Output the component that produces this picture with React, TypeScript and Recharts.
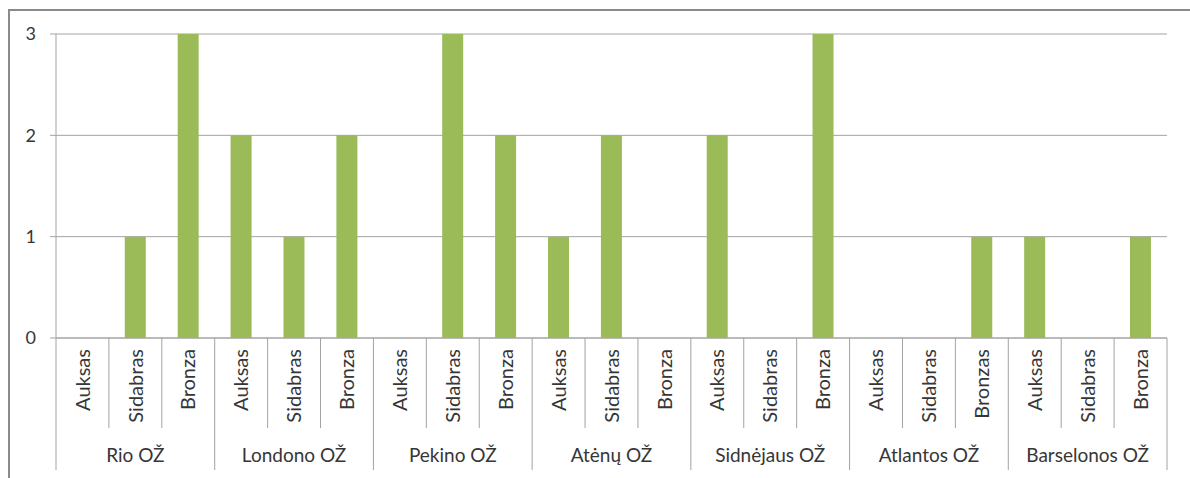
import React from "react";
import { Bar, BarChart, CartesianGrid, XAxis, YAxis } from "recharts";

// Medalių skaičius pagal olimpines žaidynes
const games = ["Rio OŽ", "Londono OŽ", "Pekino OŽ", "Atėnų OŽ", "Sidnėjaus OŽ", "Atlantos OŽ", "Barselonos OŽ"];
const medalLabels = [
  ["Auksas", "Sidabras", "Bronza"],
  ["Auksas", "Sidabras", "Bronza"],
  ["Auksas", "Sidabras", "Bronza"],
  ["Auksas", "Sidabras", "Bronza"],
  ["Auksas", "Sidabras", "Bronza"],
  ["Auksas", "Sidabras", "Bronzas"],
  ["Auksas", "Sidabras", "Bronza"],
];
const medalCounts = [
  [0, 1, 3],
  [2, 1, 2],
  [0, 3, 2],
  [1, 2, 0],
  [2, 0, 3],
  [0, 0, 1],
  [1, 0, 1],
];
const yTicks = [0, 1, 2, 3];

const data = games.flatMap((game, g) =>
  medalLabels[g].map((medal, m) => ({
    key: `${g}-${m}`,
    game,
    medal,
    value: medalCounts[g][m],
  }))
);

const CHART_W = 1190;
const CHART_H = 478;
const MARGIN = { top: 34, right: 23, left: 0, bottom: 0 };
const Y_AXIS_W = 56;
const X_AXIS_H = 140;
const PLOT_W = CHART_W - MARGIN.left - MARGIN.right - Y_AXIS_W;
const BAND = PLOT_W / data.length;
const AXIS_Y = CHART_H - MARGIN.bottom - X_AXIS_H;

const GRID = "#a3a3a3";
const TEXT = "#363636";
const FONT = "Lato, 'Open Sans', sans-serif";

function MedalTick(props: any) {
  const { x, payload } = props;
  const i = payload.index;
  const row = data[i];
  const groupStart = i % 3 === 0;
  const left = x - BAND / 2;
  const right = x + BAND / 2;
  return (
    <g>
      <line x1={left} x2={left} y1={AXIS_Y} y2={AXIS_Y + (groupStart ? 132 : 90)} stroke={GRID} />
      {i === data.length - 1 && (
        <line x1={right} x2={right} y1={AXIS_Y} y2={AXIS_Y + 132} stroke={GRID} />
      )}
      <text
        x={x}
        y={AXIS_Y + 11}
        transform={`rotate(-90 ${x} ${AXIS_Y + 11})`}
        textAnchor="end"
        dy="0.36em"
        fontSize={20}
        fontFamily={FONT}
        fill={TEXT}
      >
        {row.medal}
      </text>
      {i % 3 === 1 && (
        <text x={x} y={AXIS_Y + 124} textAnchor="middle" fontSize={19} fontFamily={FONT} fill={TEXT}>
          {row.game}
        </text>
      )}
    </g>
  );
}

export default function App() {
  return (
    <div style={{ position: "absolute", left: 0, top: 0, width: CHART_W, height: CHART_H, overflow: "hidden", background: "#fff" }}>
      <div
        style={{
          position: "absolute",
          left: 8,
          top: 9,
          width: CHART_W,
          height: CHART_H,
          borderLeft: "2px solid #8a8a8a",
          borderTop: "2px solid #8a8a8a",
        }}
      />
      <div style={{ position: "absolute", left: 0, top: 0 }}>
        <BarChart width={CHART_W} height={CHART_H} data={data} margin={MARGIN} barCategoryGap="30%">
          <CartesianGrid horizontal vertical={false} stroke={GRID} />
          <XAxis
            dataKey="key"
            interval={0}
            height={X_AXIS_H}
            tickLine={false}
            axisLine={{ stroke: GRID }}
            tick={<MedalTick />}
          />
          <YAxis
            width={Y_AXIS_W}
            domain={[0, 3]}
            ticks={yTicks}
            tickSize={6}
            tickMargin={14}
            tickLine={{ stroke: GRID }}
            axisLine={{ stroke: GRID }}
            tick={{ fontSize: 18, fontFamily: FONT, fill: TEXT }}
          />
          <Bar dataKey="value" fill="#9bbb59" isAnimationActive={false} />
        </BarChart>
      </div>
    </div>
  );
}
